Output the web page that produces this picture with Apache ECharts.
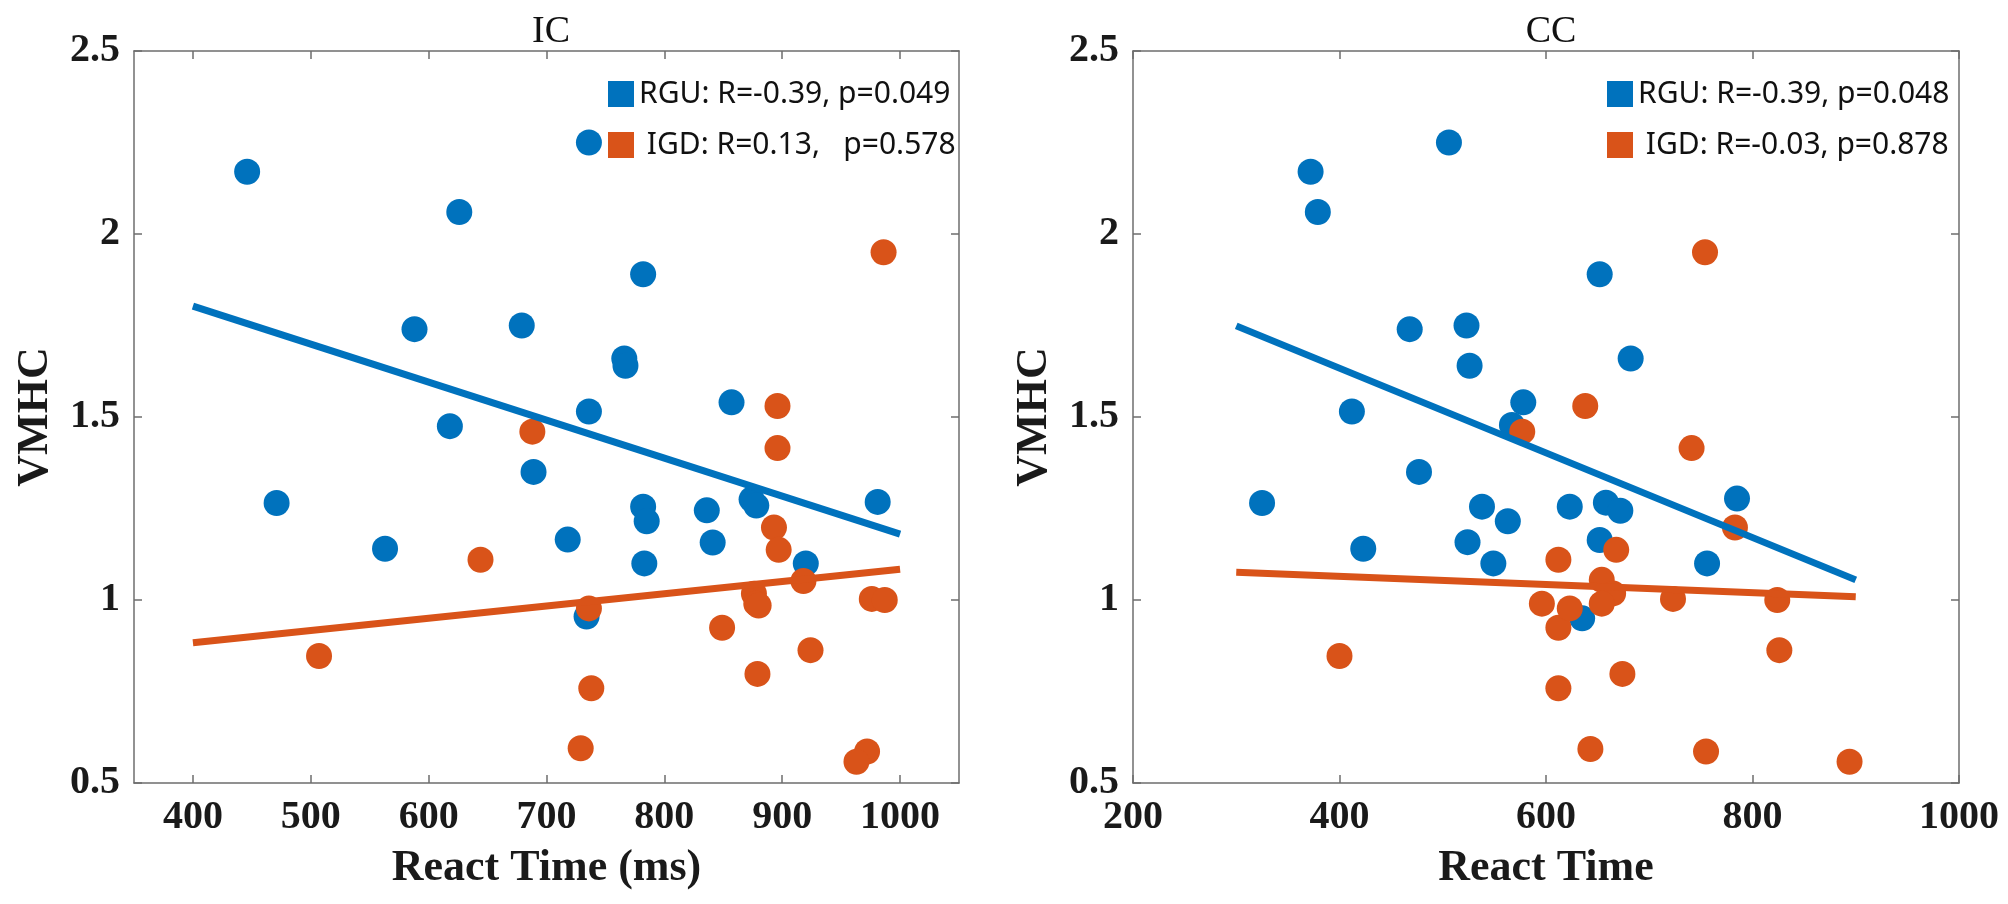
<!DOCTYPE html>
<html>
<head>
<meta charset="utf-8">
<script src="https://cdn.jsdelivr.net/npm/echarts@6/dist/echarts.min.js"></script>
<style>html,body{margin:0;padding:0;background:#fff;}#c{width:2008px;height:904px;}</style>
</head>
<body>
<div id="c"></div>
<script>
// ---- Data ----
const panelTitles = ['IC', 'CC'];
const xNames = ['React Time (ms)', 'React Time'];
const yName = 'VMHC';
const icXTicks = [400, 500, 600, 700, 800, 900, 1000];
const ccXTicks = [200, 400, 600, 800, 1000];

const icRGU = [[446,2.17],[736,2.25],[626,2.06],[782,1.89],[588,1.74],[679,1.75],[766,1.66],[767,1.64],[857,1.54],[736,1.515],[618,1.475],[471,1.265],[563,1.14],[689,1.35],[718,1.165],[782,1.255],[785,1.215],[783,1.10],[836,1.245],[841,1.157],[734,0.955],[874,1.275],[878,1.258],[920,1.10],[981,1.268]];
const icIGD = [[688,1.46],[644,1.11],[507,0.847],[736,0.977],[738,0.759],[729,0.595],[849,0.924],[876,1.017],[878,0.99],[880,0.985],[879,0.798],[986,1.95],[896,1.53],[896,1.415],[893,1.198],[897,1.137],[918,1.052],[976,1.003],[987,1.0],[924,0.863],[972,0.586],[963,0.558]];
const icFitRGU = [[400,1.803],[1000,1.18]];
const icFitIGD = [[400,0.883],[1000,1.084]];

const ccRGU = [[372,2.17],[379,2.06],[506,2.25],[468,1.74],[523,1.75],[526,1.64],[412,1.515],[578,1.54],[567,1.478],[325,1.265],[423,1.14],[477,1.35],[538,1.255],[563,1.215],[524,1.158],[549,1.10],[652,1.89],[682,1.66],[785,1.277],[756,1.10],[623,1.255],[658,1.266],[672,1.244],[652,1.164],[635,0.95]];
const ccIGD = [[577,1.46],[400,0.847],[612,1.11],[596,0.99],[612,0.924],[612,0.759],[754,1.95],[638,1.53],[741,1.415],[783,1.198],[668,1.137],[654,1.055],[665,1.018],[654,0.99],[623,0.977],[723,1.003],[824,1.0],[826,0.863],[674,0.798],[643,0.593],[755,0.586],[894,0.558]];
const ccFitRGU = [[300,1.749],[900,1.055]];
const ccFitIGD = [[300,1.076],[900,1.009]];

const icLegend = ['RGU: R=-0.39, p=0.049', ' IGD: R=0.13,   p=0.578'];
const ccLegend = ['RGU: R=-0.39, p=0.048', ' IGD: R=-0.03, p=0.878'];

// ---- Styles ----
const BLUE = '#0072BD', ORANGE = '#D95319';
const SERIF = '"Liberation Serif","DejaVu Serif",serif';
const AX = '#6e6e6e';
const grids = [
  {left: 134, top: 51, width: 825, height: 732},
  {left: 1133, top: 51, width: 826, height: 732}
];
const labelStyle = {fontFamily: SERIF, fontWeight: 'bold', fontSize: 40, color: '#1a1a1a'};

function bottomX(gi, min, max, ticks, name) {
  return {
    type: 'value', gridIndex: gi, min: min, max: max, position: 'bottom',
    name: name, nameLocation: 'middle', nameGap: 64,
    nameTextStyle: {fontFamily: SERIF, fontWeight: 'bold', fontSize: 44, color: '#1a1a1a'},
    axisLine: {show: true, lineStyle: {color: AX, width: 1.5}},
    axisTick: {show: true, inside: true, length: 8, customValues: ticks, lineStyle: {color: AX, width: 1.5}},
    axisLabel: Object.assign({margin: 15, customValues: ticks, formatter: v => String(v)}, labelStyle),
    splitLine: {show: false}
  };
}
function topX(gi, min, max, ticks) {
  return {
    type: 'value', gridIndex: gi, min: min, max: max, position: 'top',
    axisLine: {show: true, onZero: false, lineStyle: {color: AX, width: 1.5}},
    axisTick: {show: true, inside: true, length: 8, customValues: ticks, lineStyle: {color: AX, width: 1.5}},
    axisLabel: {show: false}, splitLine: {show: false}
  };
}
function leftY(gi) {
  return {
    type: 'value', gridIndex: gi, min: 0.5, max: 2.5, interval: 0.5, position: 'left',
    name: yName, nameLocation: 'middle', nameGap: 76,
    nameTextStyle: {fontFamily: SERIF, fontWeight: 'bold', fontSize: 44, color: '#1a1a1a'},
    axisLine: {show: true, onZero: false, lineStyle: {color: AX, width: 1.5}},
    axisTick: {show: true, inside: true, length: 8, lineStyle: {color: AX, width: 1.5}},
    axisLabel: Object.assign({margin: 14, formatter: v => String(v)}, labelStyle),
    splitLine: {show: false}
  };
}
function rightY(gi) {
  return {
    type: 'value', gridIndex: gi, min: 0.5, max: 2.5, interval: 0.5, position: 'right',
    axisLine: {show: true, onZero: false, lineStyle: {color: AX, width: 1.5}},
    axisTick: {show: true, inside: true, length: 8, lineStyle: {color: AX, width: 1.5}},
    axisLabel: {show: false}, splitLine: {show: false}
  };
}
function scatter(name, data, color, gi) {
  return {name: name, type: 'scatter', xAxisIndex: gi, yAxisIndex: gi, data: data,
    symbol: 'circle', symbolSize: 26, itemStyle: {color: color, opacity: 1}, silent: true};
}
function fit(name, data, color, gi) {
  return {name: name, type: 'line', xAxisIndex: gi, yAxisIndex: gi, data: data,
    showSymbol: false, symbol: 'none', lineStyle: {color: color, width: 7, cap: 'butt'},
    itemStyle: {color: color}, silent: true};
}
function legend(names, left) {
  return {
    data: names.map(n => ({name: n, icon: 'rect'})),
    orient: 'vertical', left: left, top: 79, padding: 0,
    itemWidth: 26, itemHeight: 26, itemGap: 21,
    textStyle: {fontFamily: '"Noto Sans","Open Sans",sans-serif', fontSize: 30, color: '#111', lineHeight: 26},
    selectedMode: false
  };
}

const chart = echarts.init(document.getElementById('c'), null, {renderer: 'canvas'});
chart.setOption({
  animation: false,
  backgroundColor: '#fff',
  title: [
    {text: panelTitles[0], left: 546, top: 8, textAlign: 'center',
     textStyle: {fontFamily: SERIF, fontWeight: 'normal', fontSize: 38, color: '#111'}},
    {text: panelTitles[1], left: 1546, top: 8, textAlign: 'center',
     textStyle: {fontFamily: SERIF, fontWeight: 'normal', fontSize: 38, color: '#111'}}
  ],
  legend: [legend(icLegend, 608), legend(ccLegend, 1607)],
  grid: grids,
  xAxis: [
    bottomX(0, 350, 1050, icXTicks, xNames[0]),
    bottomX(1, 200, 1000, ccXTicks, xNames[1]),
    topX(0, 350, 1050, icXTicks),
    topX(1, 200, 1000, ccXTicks)
  ],
  yAxis: [leftY(0), leftY(1), rightY(0), rightY(1)],
  series: [
    scatter(icLegend[0], icRGU, BLUE, 0),
    scatter(icLegend[1], icIGD, ORANGE, 0),
    fit('IC RGU fit', icFitRGU, BLUE, 0),
    fit('IC IGD fit', icFitIGD, ORANGE, 0),
    scatter(ccLegend[0], ccRGU, BLUE, 1),
    scatter(ccLegend[1], ccIGD, ORANGE, 1),
    fit('CC RGU fit', ccFitRGU, BLUE, 1),
    fit('CC IGD fit', ccFitIGD, ORANGE, 1)
  ]
});
</script>
</body>
</html>
